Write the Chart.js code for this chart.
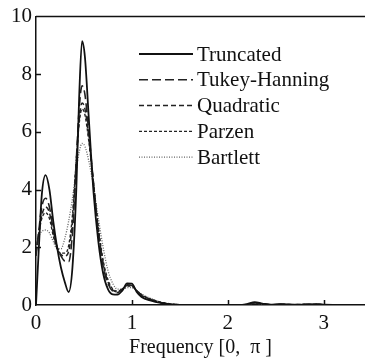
<!DOCTYPE html>
<html>
<head>
<meta charset="utf-8">
<script src="https://cdn.jsdelivr.net/npm/chart.js@4"></script>
<style>
  html, body { margin: 0; padding: 0; background: #fff; }
  #wrap { width: 365px; height: 360px; }
</style>
</head>
<body>
<div id="wrap"><canvas id="myChart" width="365" height="360"></canvas></div>
<script>
// frequency grid, 0..pi
const freq = [0, 0.03, 0.06, 0.1, 0.14, 0.18, 0.22, 0.26, 0.3, 0.34, 0.38, 0.42, 0.45, 0.48, 0.51, 0.55, 0.6, 0.65, 0.7, 0.75, 0.8, 0.85, 0.9, 0.95, 1.0, 1.05, 1.1, 1.2, 1.3, 1.4, 1.5, 1.8, 2.1, 2.2, 2.28, 2.36, 2.45, 2.55, 2.7, 2.85, 2.92, 3.0, 3.14];
const truncated = [0, 2.0, 3.8, 4.5, 4.0, 2.9, 2.0, 1.3, 0.8, 0.45, 1.3, 4.0, 7.2, 9.15, 8.6, 6.5, 3.9, 2.2, 1.1, 0.55, 0.37, 0.36, 0.5, 0.75, 0.74, 0.45, 0.28, 0.15, 0.07, 0.02, 0, 0, 0, 0.03, 0.1, 0.05, 0.01, 0.03, 0.01, 0.02, 0.03, 0.01, 0];
const tukeyHanning = [1.7, 2.6, 3.4, 3.7, 3.4, 2.6, 2.0, 1.7, 1.52, 1.5, 2.5, 5.0, 6.8, 7.6, 7.3, 6.0, 4.2, 2.5, 1.35, 0.75, 0.48, 0.43, 0.55, 0.7, 0.68, 0.5, 0.33, 0.18, 0.08, 0.03, 0.01, 0, 0, 0.02, 0.08, 0.04, 0.01, 0.02, 0.01, 0.02, 0.02, 0.01, 0];
const quadratic = [1.8, 2.5, 3.1, 3.4, 3.2, 2.5, 2.0, 1.75, 1.7, 1.85, 2.9, 5.0, 6.4, 7.0, 6.8, 5.8, 4.2, 2.6, 1.45, 0.8, 0.52, 0.46, 0.55, 0.68, 0.66, 0.5, 0.35, 0.19, 0.09, 0.03, 0.01, 0, 0, 0.02, 0.07, 0.04, 0.01, 0.02, 0.01, 0.02, 0.02, 0.01, 0];
const parzen = [1.9, 2.5, 3.0, 3.2, 3.0, 2.4, 1.95, 1.8, 1.8, 2.05, 3.1, 5.0, 6.3, 6.8, 6.6, 5.7, 4.2, 2.7, 1.55, 0.88, 0.56, 0.48, 0.55, 0.66, 0.65, 0.5, 0.36, 0.2, 0.1, 0.04, 0.01, 0, 0, 0.02, 0.07, 0.04, 0.01, 0.02, 0.01, 0.02, 0.02, 0.01, 0];
const bartlett = [2.2, 2.4, 2.55, 2.6, 2.5, 2.2, 1.95, 1.95, 2.3, 2.9, 3.7, 4.7, 5.3, 5.6, 5.5, 5.0, 4.1, 3.0, 2.0, 1.2, 0.75, 0.55, 0.55, 0.6, 0.6, 0.5, 0.38, 0.22, 0.1, 0.04, 0.01, 0, 0, 0.02, 0.06, 0.03, 0.01, 0.02, 0.01, 0.02, 0.02, 0.01, 0];
const seriesNames = ['Truncated', 'Tukey-Hanning', 'Quadratic', 'Parzen', 'Bartlett'];
const xTicks = [0, 1, 2, 3];
const yTicks = [0, 2, 4, 6, 8, 10];

const FONT = '"Liberation Serif", "DejaVu Serif", serif';

const toPoints = (ys) => freq.map((f, i) => ({ x: f, y: ys[i] }));

const styles = [
    { color: '#111', dash: [], width: 1.8 },
    { color: '#222', dash: [9, 4], width: 1.6 },
    { color: '#222', dash: [5, 3], width: 1.5 },
    { color: '#222', dash: [3, 2], width: 1.4 },
    { color: '#666', dash: [1, 1.5], width: 1.3 }
];

const allSeries = [truncated, tukeyHanning, quadratic, parzen, bartlett];

// inward ticks, top frame line and the in-plot legend
const framePlugin = {
    id: 'frame',
    afterDatasetsDraw(chart) {
        const ctx = chart.ctx;
        const area = chart.chartArea;
        const xs = chart.scales.x;
        const ys = chart.scales.y;
        ctx.save();
        ctx.strokeStyle = '#111';
        ctx.lineWidth = 1.5;
        ctx.beginPath();
        ctx.moveTo(area.left, area.top);
        ctx.lineTo(area.right, area.top);
        xTicks.slice(1).forEach(v => {
            const px = Math.round(xs.getPixelForValue(v)) + 0.5;
            ctx.moveTo(px, area.bottom);
            ctx.lineTo(px, area.bottom - 5);
        });
        yTicks.slice(1, -1).forEach(v => {
            const py = Math.round(ys.getPixelForValue(v)) + 0.5;
            ctx.moveTo(area.left, py);
            ctx.lineTo(area.left + 5, py);
        });
        ctx.stroke();

        // legend
        ctx.font = '21px ' + FONT;
        ctx.fillStyle = '#111';
        ctx.textBaseline = 'middle';
        ctx.textAlign = 'left';
        chart.data.datasets.forEach((ds, i) => {
            const y = 54 + i * 25.8;
            ctx.strokeStyle = ds.borderColor;
            ctx.lineWidth = ds.borderWidth;
            ctx.setLineDash(ds.borderDash);
            ctx.beginPath();
            ctx.moveTo(139, y);
            ctx.lineTo(193, y);
            ctx.stroke();
            ctx.setLineDash([]);
            ctx.fillText(ds.label, 197, y + 1);
        });
        ctx.restore();
    }
};

const ctx = document.getElementById('myChart').getContext('2d');
new Chart(ctx, {
    type: 'line',
    data: {
        datasets: allSeries.map((s, i) => ({
            label: seriesNames[i],
            data: toPoints(s),
            borderColor: styles[i].color,
            borderDash: styles[i].dash,
            borderWidth: styles[i].width,
            pointRadius: 0,
            fill: false,
            cubicInterpolationMode: 'monotone'
        }))
    },
    options: {
        responsive: false,
        animation: false,
        layout: { padding: { top: 15, right: 0, left: 0, bottom: 0 } },
        plugins: {
            legend: { display: false },
            tooltip: { enabled: false }
        },
        scales: {
            x: {
                type: 'linear',
                min: 0,
                max: 3.43,
                afterBuildTicks: (scale) => { scale.ticks = xTicks.map(v => ({ value: v })); },
                afterFit: (scale) => { scale.height = 55; },
                ticks: { font: { family: FONT, size: 21 }, color: '#111', padding: 6, maxRotation: 0 },
                grid: { display: false, drawTicks: false },
                border: { display: true, color: '#111', width: 1.5 },
                title: { display: true, text: 'Frequency [0,  \u03c0 ]', font: { family: FONT, size: 20 }, color: '#111', padding: { top: 0, bottom: 0 } }
            },
            y: {
                min: 0,
                max: 10,
                afterBuildTicks: (scale) => { scale.ticks = yTicks.map(v => ({ value: v })); },
                afterFit: (scale) => { scale.width = 36; },
                ticks: { font: { family: FONT, size: 21 }, color: '#111', padding: 4 },
                grid: { display: false, drawTicks: false },
                border: { display: true, color: '#111', width: 1.5 }
            }
        }
    },
    plugins: [framePlugin]
});
</script>
</body>
</html>
